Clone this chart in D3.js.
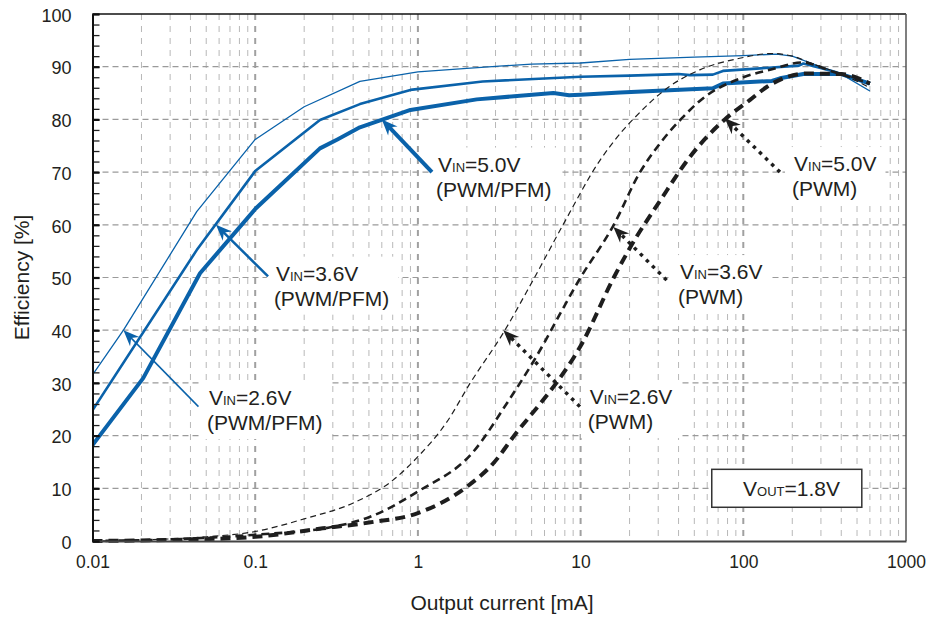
<!DOCTYPE html>
<html>
<head>
<meta charset="utf-8">
<script src="https://cdn.jsdelivr.net/npm/d3@7"></script>
<style>
  body { margin: 0; background: #fff; }
  text { font-family: "Liberation Sans", Arial, sans-serif; fill: #231f20; }
</style>
</head>
<body>
<div id="chart"></div>
<script>
// efficiency vs output current, VOUT = 1.8V

var w = 930;
var h = 618;

// x ticks / y ticks
var xTicks = [0.01, 0.1, 1, 10, 100, 1000];
var xTickLabels = ["0.01", "0.1", "1", "10", "100", "1000"];
var yTicks = [0, 10, 20, 30, 40, 50, 60, 70, 80, 90, 100];

// PWM/PFM (blue)
var cur26pfm = [0.01, 0.0155, 0.0437, 0.1, 0.2, 0.44, 1, 2, 5, 10, 20, 50, 100, 160, 200, 280, 400, 600];
var eff26pfm = [31.5, 40, 62.5, 76.2, 82.4, 87.2, 89, 89.7, 90.5, 90.7, 91.4, 91.8, 92.1, 92.4, 92, 90.3, 88.6, 85.4];

var cur36pfm = [0.01, 0.0437, 0.1, 0.25, 0.44, 0.9, 2.5, 10, 20, 40, 47, 65, 75, 220, 234, 360, 600];
var eff36pfm = [24.8, 55.2, 70.2, 79.9, 82.9, 85.6, 87.2, 88.1, 88.3, 88.6, 88.4, 88.5, 89.2, 90.2, 90.6, 89.1, 86.8];

var cur50pfm = [0.01, 0.0205, 0.0458, 0.1, 0.25, 0.32, 0.44, 0.9, 2.3, 6.8, 8.5, 10, 17.5, 65, 75, 150, 168, 234, 400, 600];
var eff50pfm = [18.2, 30.9, 50.8, 63.0, 74.5, 76.2, 78.5, 81.8, 83.8, 85.0, 84.6, 84.7, 85.1, 85.9, 86.8, 87.3, 87.8, 88.6, 88.6, 86.8];

// PWM only (black dashed)
var cur26pwm = [0.01, 0.02, 0.05, 0.1, 0.2, 0.42, 0.7, 1, 1.5, 2.1, 3.35, 5, 7.8, 13, 18.3, 21, 35, 54, 95, 150, 200, 280, 400, 600];
var eff26pwm = [0, 0.2, 0.8, 1.8, 4.2, 7.5, 11.5, 16, 22.5, 30, 39.5, 49, 60, 72, 78, 80, 86.2, 89.4, 91.6, 92.5, 92, 90.3, 88.6, 86];

var cur36pwm = [0.01, 0.03, 0.1, 0.29, 0.5, 1, 2.2, 3.5, 5, 10, 16, 23, 30, 45, 54, 100, 150, 230, 360, 600];
var eff36pwm = [0, 0.3, 1.2, 2.6, 4.5, 9.4, 17, 26, 33.5, 50, 60, 69.8, 75, 81.2, 83.5, 88, 89.5, 90.8, 89, 86.8];

var cur50pwm = [0.01, 0.03, 0.1, 0.26, 0.5, 1, 2, 2.9, 4, 5.9, 7.1, 10, 16, 20, 31, 47, 77, 110, 140, 245, 400, 600];
var eff50pwm = [0, 0.2, 0.8, 2.4, 3.5, 5.3, 10.3, 14.7, 20.4, 26.8, 30, 37, 50, 55.5, 64.7, 72.9, 80, 83.7, 86.2, 88.7, 88.6, 86.8];

var blue = "#0a62aa";
var black = "#1e1e1e";

var series = [
  {cur: cur26pfm, eff: eff26pfm, color: blue, width: 1.3, dash: null},
  {cur: cur36pfm, eff: eff36pfm, color: blue, width: 2.6, dash: null},
  {cur: cur50pfm, eff: eff50pfm, color: blue, width: 4, dash: null},
  {cur: cur26pwm, eff: eff26pwm, color: black, width: 1.2, dash: "6,4"},
  {cur: cur36pwm, eff: eff36pwm, color: black, width: 2.6, dash: "8,5"},
  {cur: cur50pwm, eff: eff50pwm, color: black, width: 4, dash: "10,6"}
];

// annotations: tip / tail / text anchor in data units
var notes = [
  {v: "=5.0V", mode: "(PWM/PFM)", tip: [0.6, 80], tail: [1.22, 70], at: [1.33, 70.1], color: blue, width: 4, dotted: false},
  {v: "=3.6V", mode: "(PWM/PFM)", tip: [0.0574, 60], tail: [0.12, 50.2], at: [0.134, 49.4], color: blue, width: 2.5, dotted: false},
  {v: "=2.6V", mode: "(PWM/PFM)", tip: [0.0155, 40], tail: [0.0448, 25.5], at: [0.052, 25.8], color: blue, width: 1.5, dotted: false},
  {v: "=5.0V", mode: "(PWM)", tip: [77, 80.2], tail: [168, 70], at: [205, 70.2], color: black, width: 3.5, dotted: true},
  {v: "=3.6V", mode: "(PWM)", tip: [15.9, 59.6], tail: [33.8, 49.5], at: [40.8, 49.7], color: black, width: 3.5, dotted: true},
  {v: "=2.6V", mode: "(PWM)", tip: [3.35, 40], tail: [9.9, 25.5], at: [11.4, 26], color: black, width: 3.5, dotted: true}
];

var x = d3.scaleLog().domain([0.01, 1000]).range([92.5, 906]);
var y = d3.scaleLinear().domain([0, 100]).range([541, 14]);

var svg = d3.select("#chart")
  .append("svg")
  .attr("width", w)
  .attr("height", h);

var defs = svg.append("defs");
defs.append("clipPath").attr("id", "plot")
  .append("rect")
  .attr("x", x(0.01)).attr("y", y(100) - 3)
  .attr("width", x(1000) - x(0.01)).attr("height", y(0) - y(100) + 6);

[["arrBlue", blue], ["arrBlack", black]].forEach(function(m) {
  defs.append("marker")
    .attr("id", m[0])
    .attr("viewBox", "-17 -8 18 16")
    .attr("refX", 0).attr("refY", 0)
    .attr("markerWidth", 18).attr("markerHeight", 16)
    .attr("markerUnits", "userSpaceOnUse")
    .attr("orient", "auto")
    .append("path")
    .attr("d", "M0,0 L-16,-6.5 L-11,0 L-16,6.5Z")
    .attr("fill", m[1]);
});

// grid
var gridX = [];
[0.01, 0.1, 1, 10, 100].forEach(function(d) {
  for (var k = 1; k <= 9; k++) {
    if (d === 0.01 && k === 1) continue;
    gridX.push(d * k);
  }
});
var isDecade = function(d) { return xTicks.indexOf(+d.toPrecision(6)) >= 0; };
var grid = svg.append("g");
grid.selectAll("line.vx")
  .data(gridX)
  .enter().append("line")
  .attr("x1", function(d) { return x(d); })
  .attr("x2", function(d) { return x(d); })
  .attr("y1", y(100)).attr("y2", y(0))
  .attr("stroke", function(d) { return isDecade(d) ? "#a0a0a0" : "#b8b8b8"; })
  .attr("stroke-width", function(d) { return isDecade(d) ? 2 : 1; })
  .attr("stroke-dasharray", "6,6");

grid.selectAll("line.hy")
  .data(yTicks.slice(1, -1))
  .enter().append("line")
  .attr("x1", x(0.01)).attr("x2", x(1000))
  .attr("y1", function(d) { return y(d); })
  .attr("y2", function(d) { return y(d); })
  .attr("stroke", "#9a9a9a")
  .attr("stroke-width", 1.2)
  .attr("stroke-dasharray", "6,4");

// annotation text (white boxes hide the grid behind it)
var noteBoxes = svg.append("g");
var noteText = svg.append("g");
notes.forEach(function(n) {
  var tx = x(n.at[0]), ty = y(n.at[1]);
  var g = noteText.append("g");
  var t1 = g.append("text").attr("x", tx).attr("y", ty).style("font-size", "21px");
  t1.append("tspan").text("V");
  t1.append("tspan").style("font-size", "13px").text("IN");
  t1.append("tspan").text(n.v);
  g.append("text").attr("x", tx - 2).attr("y", ty + 25).style("font-size", "21px").text(n.mode);
  var b = g.node().getBBox();
  noteBoxes.append("rect")
    .attr("x", b.x - 7).attr("y", b.y - 5)
    .attr("width", b.width + 16).attr("height", b.height + 10)
    .attr("fill", "#fff");
});

// curves
var line = d3.line()
  .x(function(d) { return x(d[0]); })
  .y(function(d) { return y(d[1]); });

var curves = svg.append("g").attr("clip-path", "url(#plot)");
series.forEach(function(s) {
  curves.append("path")
    .attr("d", line.curve(s.dash ? d3.curveMonotoneX : d3.curveLinear)(d3.zip(s.cur, s.eff)))
    .attr("fill", "none")
    .attr("stroke", s.color)
    .attr("stroke-width", s.width)
    .attr("stroke-linejoin", "round")
    .attr("stroke-dasharray", s.dash);
});

// arrows
notes.forEach(function(n) {
  var x1 = x(n.tail[0]), y1 = y(n.tail[1]);
  var x2 = x(n.tip[0]), y2 = y(n.tip[1]);
  var len = Math.sqrt((x2 - x1) * (x2 - x1) + (y2 - y1) * (y2 - y1));
  var cut = 9 / len;
  svg.append("line")
    .attr("x1", x1).attr("y1", y1)
    .attr("x2", x2 - (x2 - x1) * cut).attr("y2", y2 - (y2 - y1) * cut)
    .attr("stroke", n.color)
    .attr("stroke-width", n.width)
    .attr("stroke-dasharray", n.dotted ? "3.5,5" : null);
  svg.append("path")
    .attr("d", "M" + (x2 - (x2 - x1) * cut) + "," + (y2 - (y2 - y1) * cut) + "L" + x2 + "," + y2)
    .attr("stroke", "none")
    .attr("marker-end", "url(#" + (n.color === blue ? "arrBlue" : "arrBlack") + ")");
});
noteText.raise();

// VOUT box
var box = svg.append("g");
box.append("rect")
  .attr("x", x(64)).attr("y", y(13.6))
  .attr("width", x(535) - x(64)).attr("height", y(6.4) - y(13.6))
  .attr("fill", "#fff").attr("stroke", "#333").attr("stroke-width", 1.5);
var vt = box.append("text").attr("x", x(99.6)).attr("y", y(8.5)).style("font-size", "21px");
vt.append("tspan").text("V");
vt.append("tspan").style("font-size", "13px").text("OUT");
vt.append("tspan").text("=1.8V");

// frame
svg.append("line").attr("x1", x(0.01)).attr("x2", x(1000)).attr("y1", y(100)).attr("y2", y(100))
  .attr("stroke", "#111").attr("stroke-width", 1.5);
svg.append("line").attr("x1", x(1000)).attr("x2", x(1000)).attr("y1", y(100)).attr("y2", y(0))
  .attr("stroke", "#555").attr("stroke-width", 1.5);

// axes
var xAxis = svg.append("g")
  .attr("transform", "translate(0," + y(0) + ")")
  .call(d3.axisBottom(x).tickValues(xTicks).tickSize(0).tickPadding(15)
    .tickFormat(function(d, i) { return xTickLabels[i]; }));
xAxis.select(".domain").attr("stroke", "#444").attr("stroke-width", 2);
xAxis.selectAll("text").style("font-size", "17.5px").attr("fill", "#231f20");

var yMinor = svg.append("g")
  .attr("transform", "translate(" + x(0.01) + ",0)")
  .call(d3.axisLeft(y).tickValues(d3.range(0, 101, 2)).tickSizeInner(-7).tickSizeOuter(0).tickFormat(""));
yMinor.selectAll("line").attr("stroke", "#222").attr("stroke-width", 1.3);

var yAxis = svg.append("g")
  .attr("transform", "translate(" + x(0.01) + ",0)")
  .call(d3.axisLeft(y).tickValues(yTicks).tickSizeInner(-7).tickSizeOuter(0).tickPadding(21));
yAxis.select(".domain").attr("stroke", "#111").attr("stroke-width", 2);
yAxis.selectAll("line").attr("stroke", "#111").attr("stroke-width", 2.2);
yAxis.selectAll("text").style("font-size", "18px").attr("fill", "#231f20").attr("dy", "0.4em");

// axis titles
svg.append("text")
  .attr("x", 502).attr("y", 610)
  .attr("text-anchor", "middle")
  .style("font-size", "21px")
  .text("Output current [mA]");

svg.append("text")
  .attr("transform", "translate(29," + ((y(0) + y(100)) / 2) + ")rotate(-90)")
  .attr("text-anchor", "middle")
  .style("font-size", "21px")
  .text("Efficiency [%]");
</script>
</body>
</html>
